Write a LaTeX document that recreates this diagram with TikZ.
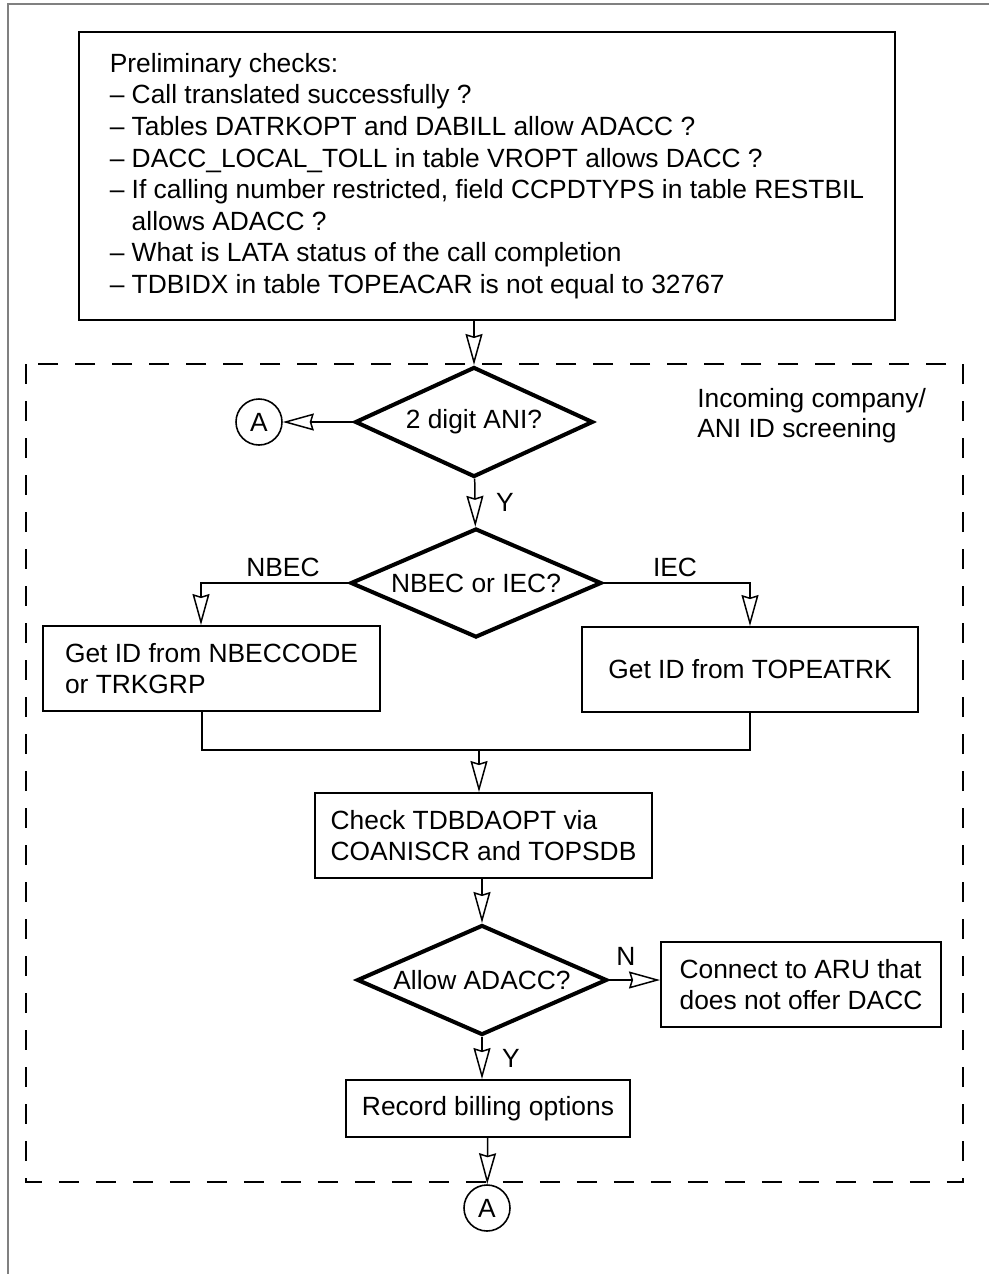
\documentclass[tikz,border=0pt]{standalone}
\usepackage{fontspec}
\setmainfont{Liberation Sans}
\usetikzlibrary{shapes.geometric,arrows.meta}

\tikzset{
  box/.style={draw, line width=1.1pt, align=left, inner sep=0pt, minimum height=1.7cm},
  decision/.style={draw, diamond, aspect=2.3, line width=2.3pt, inner sep=0pt, minimum width=5cm, minimum height=2.2cm},
  conn/.style={draw, circle, line width=0.9pt, inner sep=0pt, minimum size=0.92cm},
  flow/.style={line width=0.85pt, -{Stealth[open, length=0.62cm, width=0.34cm, inset=0.05cm]}},
  link/.style={line width=0.85pt},
  lbl/.style={inner sep=0pt}
}

\begin{document}
\begin{tikzpicture}[font=\fontsize{15}{18}\selectfont]
  \useasboundingbox (0,0) rectangle (19.78,-25.48);
  % page frame
  \draw[gray, line width=0.8pt] (0.16,-25.48) -- (0.16,-0.08) -- (19.78,-0.08);

  % preliminary checks
  \node[box, line width=1.3pt, minimum width=16.32cm, minimum height=5.76cm] (checks) at (9.74,-3.52) {Preliminary checks:\\
    – Call translated successfully ?\\
    – Tables DATRKOPT and DABILL allow ADACC ?\\
    – DACC\_LOCAL\_TOLL in table VROPT allows DACC ?\\
    – If calling number restricted, field CCPDTYPS in table RESTBIL\\
    \phantom{– }allows ADACC ?\\
    – What is LATA status of the call completion\\
    – TDBIDX in table TOPEACAR is not equal to 32767};

  % screening area
  \draw[line width=1.1pt, dash pattern=on 0.4cm off 0.34cm] (0.52,-7.28) rectangle (19.26,-23.64);
  \node[align=left, anchor=west, inner sep=0pt, font=\fontsize{15}{17}\selectfont] (screen) at (13.94,-8.32) {Incoming company/\\ANI ID screening};

  \node[decision, minimum width=4.76cm] (ani) at (9.48,-8.44) {2 digit ANI?};
  \node[conn] (atop) at (5.18,-8.44) {A};
  \node[decision, minimum width=5.02cm, minimum height=2.18cm] (nbec) at (9.52,-11.66) {NBEC or IEC?};
  \node[box, minimum width=6.74cm] (nbecbox) at (4.23,-13.37) {Get ID from NBECCODE\\or TRKGRP};
  \node[box, minimum width=6.72cm] (trkbox) at (15.0,-13.39) {Get ID from TOPEATRK};
  \coordinate (merge) at (9.58,-15.0);
  \node[box, minimum width=6.74cm] (tdbbox) at (9.67,-16.71) {Check TDBDAOPT via\\COANISCR and TOPSDB};
  \node[decision] (allow) at (9.64,-19.6) {Allow ADACC?};
  \node[box, minimum width=5.6cm] (arubox) at (16.02,-19.69) {Connect to ARU that\\does not offer DACC};
  \node[box, minimum width=5.68cm, minimum height=1.14cm] (billbox) at (9.76,-22.17) {Record billing options};
  \node[conn] (abot) at (9.74,-24.16) {A};

  % labels
  \node[lbl] (yani) at (10.1,-10.04) {Y};
  \node[lbl] (nbeclbl) at (5.66,-11.34) {NBEC};
  \node[lbl] (ieclbl) at (13.5,-11.34) {IEC};
  \node[lbl] (nallow) at (12.52,-19.12) {N};
  \node[lbl] (yallow) at (10.22,-21.16) {Y};

  % connectors
  \draw[flow] (checks.south -| ani) -- (ani);
  \draw[flow] (ani) -- (atop);
  \draw[flow] (ani) -- (nbec);
  \draw[flow] (nbec.west) -| ([xshift=-0.21cm]nbecbox.north);
  \draw[flow] (nbec.east) -| (trkbox.north);
  \draw[link] ([xshift=-0.19cm]nbecbox.south) |- (merge) -| (trkbox.south);
  \draw[flow] (merge) -- (merge |- tdbbox.north);
  \draw[flow] (tdbbox.south -| allow) -- (allow);
  \draw[flow] (allow) -- (arubox.west |- allow);
  \draw[flow] (allow) -- (allow |- billbox.north);
  \draw[flow] (billbox) -- (abot);
\end{tikzpicture}
\end{document}
